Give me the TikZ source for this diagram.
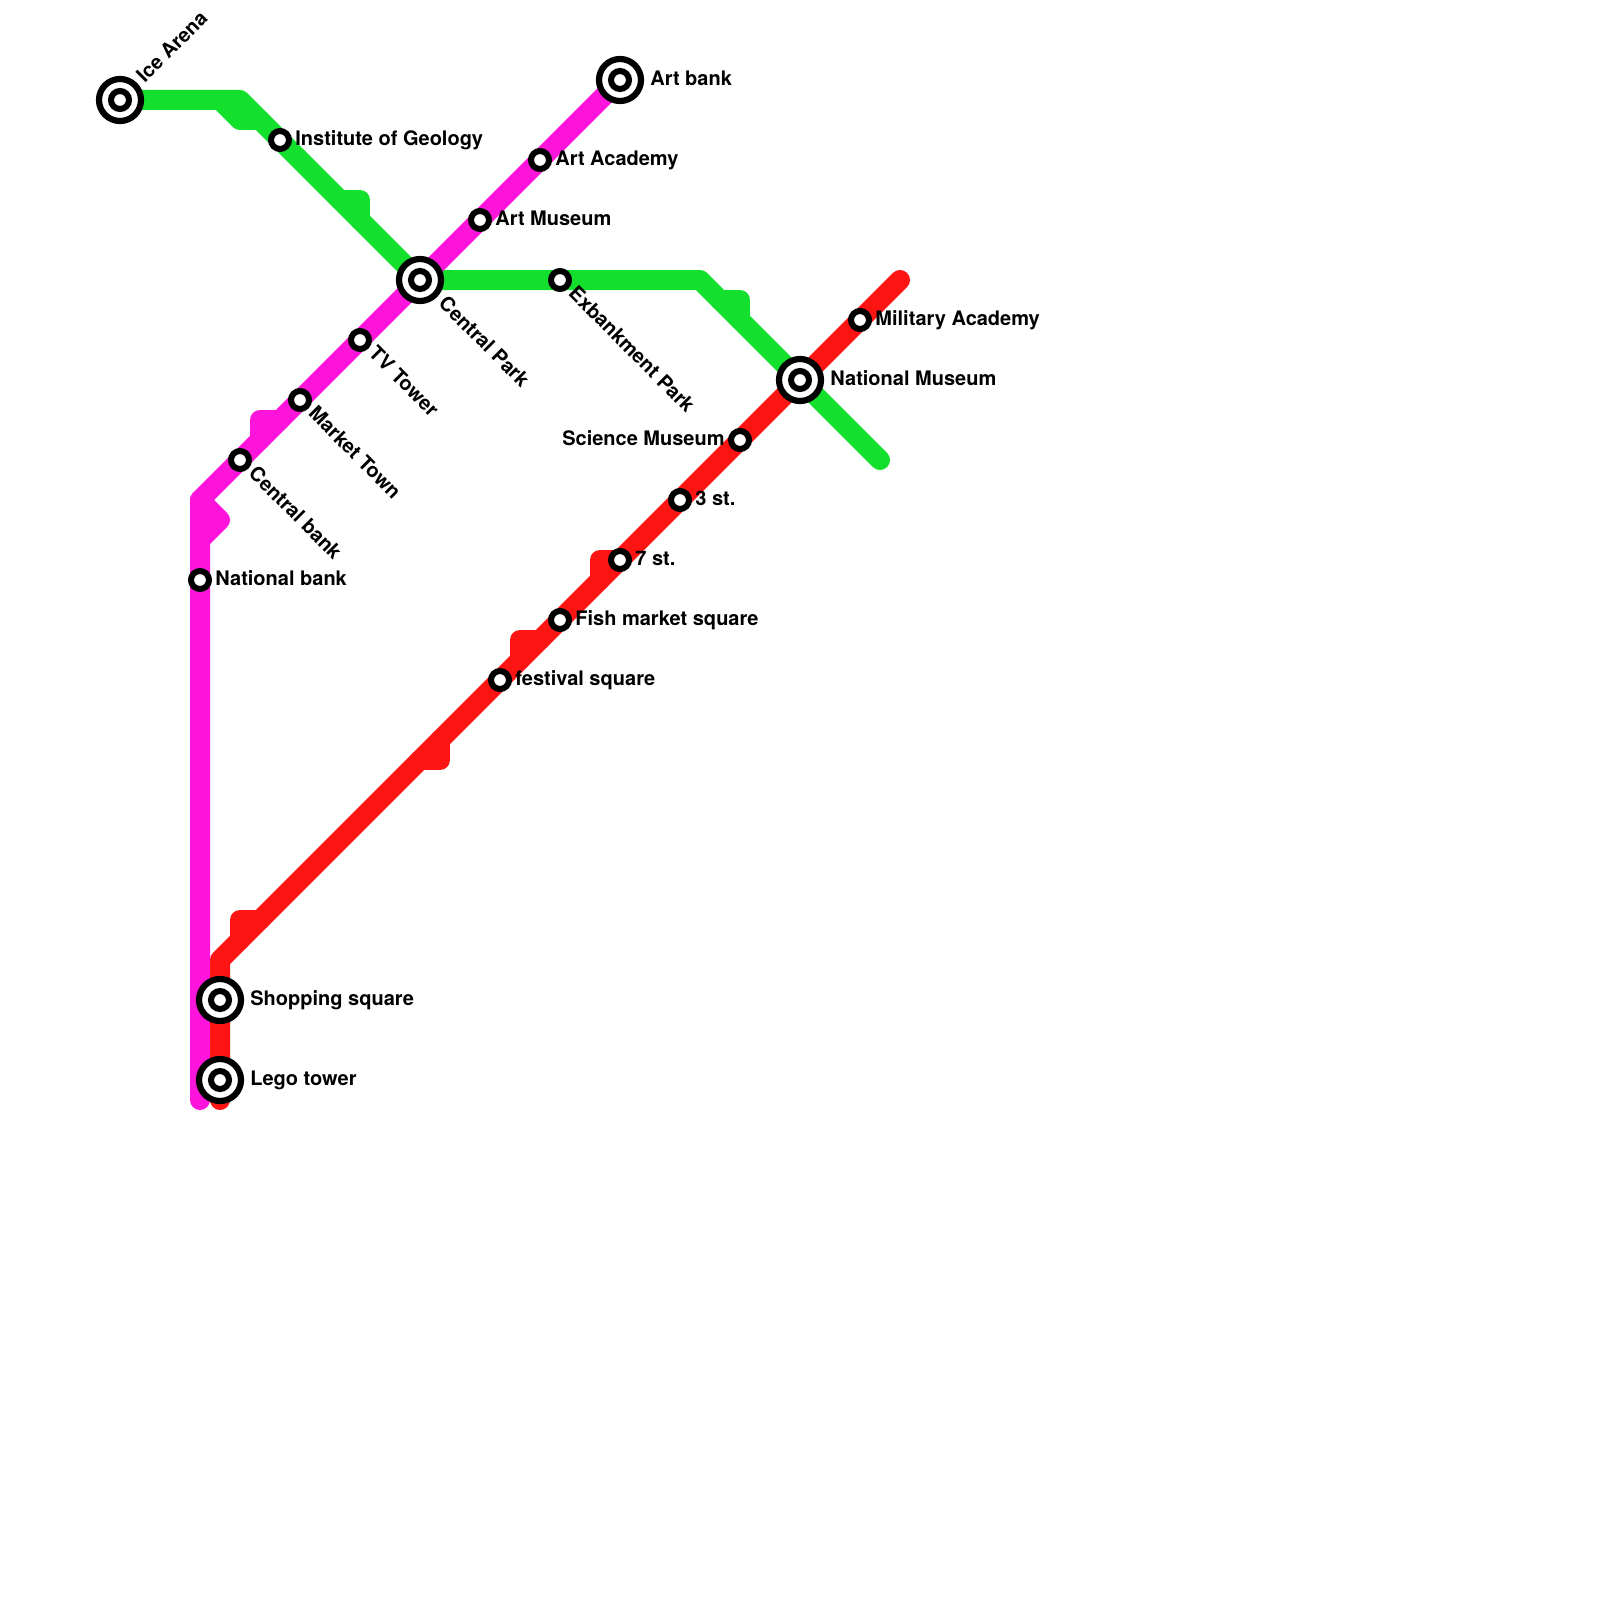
\documentclass[tikz,border=0pt]{standalone}
\usepackage{fontspec}
\setmainfont{TeX Gyre Heros}
\definecolor{gline}{RGB}{18,224,44}
\definecolor{mline}{RGB}{255,20,220}
\definecolor{rline}{RGB}{255,20,20}
\tikzset{
  route/.style={line width=10pt,line cap=round,line join=round},
  stop/.style={circle,draw=black,fill=white,line width=3pt,minimum size=9pt,inner sep=0pt,outer sep=0pt},
  hub/.style={circle,draw=black,fill=white,line width=3.1pt,minimum size=21pt,inner sep=0pt,outer sep=0pt},
  lbl/.style={font=\bfseries\fontsize{10pt}{12pt}\selectfont,text=black,inner sep=0pt,anchor=mid west},
  lblr/.style={lbl,anchor=mid east},
  down/.style={lbl,rotate=-45},
  up/.style={lbl,rotate=45}
}
\begin{document}
\begin{tikzpicture}[x=0.5pt,y=-0.5pt]
\useasboundingbox (0,0) rectangle (1600,1600);
% bends
\coordinate (ga) at (220,100); \coordinate (gb) at (240,100); \coordinate (gc) at (240,120); \coordinate (gd) at (260,120);
\coordinate (ge) at (340,200); \coordinate (gf) at (360,200); \coordinate (gg) at (360,220);
\coordinate (gh) at (700,280); \coordinate (gi) at (720,300); \coordinate (gj) at (740,300); \coordinate (gk) at (740,320);
\coordinate (gend) at (880,460);
\coordinate (ma) at (280,420); \coordinate (mb) at (260,420); \coordinate (mc) at (260,440);
\coordinate (md) at (200,500); \coordinate (me) at (220,520); \coordinate (mf) at (200,540);
\coordinate (mend) at (200,1100);
\coordinate (ra) at (220,960); \coordinate (rb) at (240,940); \coordinate (rc) at (240,920); \coordinate (rd) at (260,920);
\coordinate (re) at (420,760); \coordinate (rf) at (440,760); \coordinate (rg) at (440,740);
\coordinate (rh) at (520,660); \coordinate (ri) at (520,640); \coordinate (rj) at (540,640);
\coordinate (rk) at (600,580); \coordinate (rl) at (600,560); \coordinate (rm) at (620,560);
\coordinate (rend) at (900,280); \coordinate (rstart) at (220,1100);
% stations
\coordinate (pice) at (120,100);
\coordinate (pcen) at (420,280);
\coordinate (pnat) at (800,380);
\coordinate (part) at (620,80);
% routes
\draw[route,gline] (pice) -- (ga) -- (gb) -- (gd) -- (ge) -- (gg) -- (pcen) -- (gh) -- (gi) -- (gk) -- (pnat) -- (gend);
\draw[route,gline] (ga) -- (gc) -- (gd);
\draw[route,gline] (ge) -- (gf) -- (gg);
\draw[route,gline] (gi) -- (gj) -- (gk);
\draw[route,mline] (part) -- (pcen) -- (ma) -- (mc) -- (md) -- (mf) -- (mend);
\draw[route,mline] (ma) -- (mb) -- (mc);
\draw[route,mline] (md) -- (me) -- (mf);
\draw[route,rline] (rstart) -- (ra) -- (rb) -- (rd) -- (re) -- (rg) -- (rh) -- (rj) -- (rk) -- (rm) -- (pnat) -- (rend);
\draw[route,rline] (rb) -- (rc) -- (rd);
\draw[route,rline] (re) -- (rf) -- (rg);
\draw[route,rline] (rh) -- (ri) -- (rj);
\draw[route,rline] (rk) -- (rl) -- (rm);
% hubs
\node[hub] (ice) at (pice) {}; \node[stop] (icei) at (pice) {};
\node[hub] (cen) at (pcen) {}; \node[stop] (ceni) at (pcen) {};
\node[hub] (nat) at (pnat) {}; \node[stop] (nati) at (pnat) {};
\node[hub] (art) at (part) {}; \node[stop] (arti) at (part) {};
\node[hub] (shop) at (220,1000) {}; \node[stop] (shopi) at (220,1000) {};
\node[hub] (lego) at (220,1080) {}; \node[stop] (legoi) at (220,1080) {};
% stops
\node[stop] (inst) at (280,140) {};
\node[stop] (amus) at (480,220) {};
\node[stop] (aaca) at (540,160) {};
\node[stop] (tv) at (360,340) {};
\node[stop] (mkt) at (300,400) {};
\node[stop] (cbank) at (240,460) {};
\node[stop] (nbank) at (200,580) {};
\node[stop] (exb) at (560,280) {};
\node[stop] (mil) at (860,320) {};
\node[stop] (sci) at (740,440) {};
\node[stop] (st3) at (680,500) {};
\node[stop] (st7) at (620,560) {};
\node[stop] (fish) at (560,620) {};
\node[stop] (fest) at (500,680) {};
% labels
\node[up] (lice) at (141,80) {Ice Arena};
\node[lbl] (linst) at (295,140) {Institute of Geology};
\node[lbl] (lart) at (650,80) {Art bank};
\node[lbl] (laca) at (555,160) {Art Academy};
\node[lbl] (lmus) at (495,220) {Art Museum};
\node[down] (lcen) at (441,301) {Central Park};
\node[down] (lexb) at (571,291) {Exbankment Park};
\node[down] (ltv) at (371,351) {TV Tower};
\node[down] (lmkt) at (311,411) {Market Town};
\node[down] (lcb) at (251,471) {Central bank};
\node[lbl] (lnb) at (215,580) {National bank};
\node[lbl] (lmil) at (875,320) {Military Academy};
\node[lbl] (lnat) at (830,380) {National Museum};
\node[lblr] (lsci) at (725,440) {Science Museum};
\node[lbl] (l3) at (695,500) {3 st.};
\node[lbl] (l7) at (635,560) {7 st.};
\node[lbl] (lfish) at (575,620) {Fish market square};
\node[lbl] (lfest) at (515,680) {festival square};
\node[lbl] (lshop) at (250,1000) {Shopping square};
\node[lbl] (llego) at (250,1080) {Lego tower};
\end{tikzpicture}
\end{document}
